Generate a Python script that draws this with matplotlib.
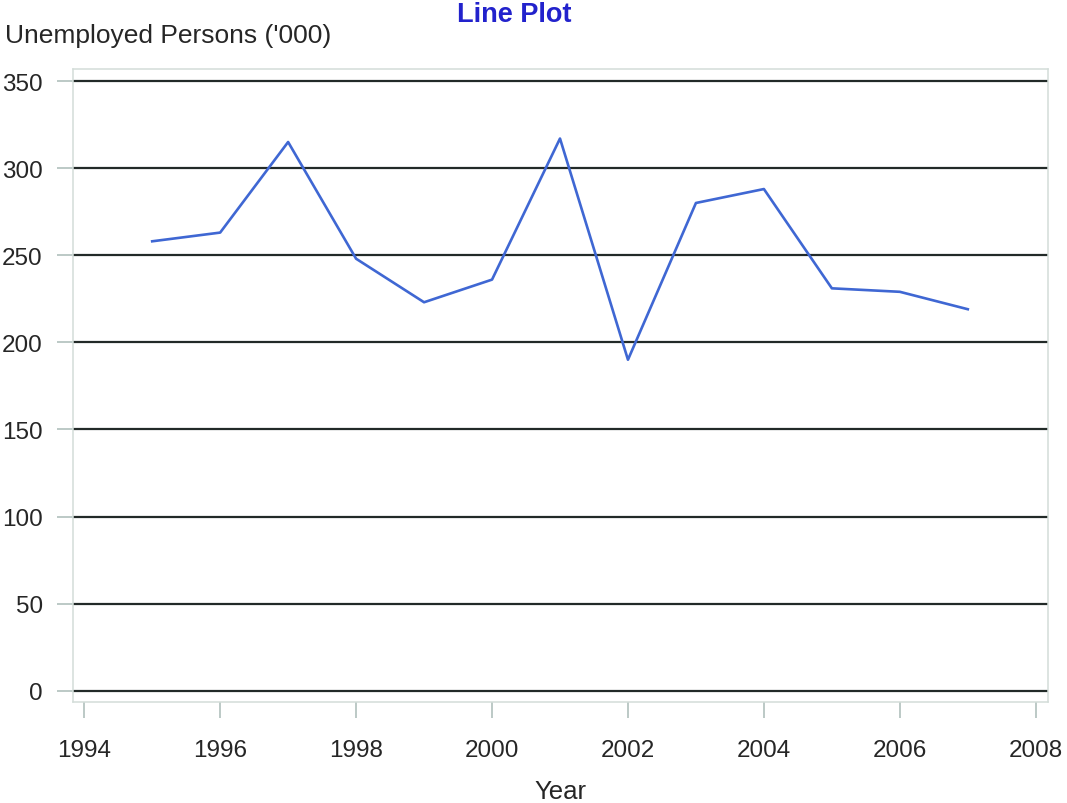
import numpy as np
import matplotlib
matplotlib.use("Agg")
import matplotlib.pyplot as plt

plt.rcParams['font.family'] = ['Liberation Sans', 'DejaVu Sans']

# data
years = [1995, 1996, 1997, 1998, 1999, 2000, 2001, 2002, 2003, 2004, 2005, 2006, 2007]
unemployed = [258, 263, 315, 248, 223, 236, 317, 190, 280, 288, 231, 229, 219]

x_ticks = [1994, 1996, 1998, 2000, 2002, 2004, 2006, 2008]
y_ticks = [0, 50, 100, 150, 200, 250, 300, 350]

text_col = '#262626'
frame_col = '#d3ddd9'
tick_col = '#a9bbb7'
grid_col = '#222a28'
line_col = '#3f67d3'

fig = plt.figure(figsize=(10.67, 8.04), dpi=100)
ax = fig.add_axes([0.0681, 0.1256, 0.9141, 0.7873])

ax.plot(years, unemployed, color=line_col, lw=1.9, zorder=3)

ax.set_xlim(1993.83, 2008.18)
ax.set_ylim(-6.5, 356.9)
ax.set_xticks(x_ticks)
ax.set_yticks(y_ticks)

ax.grid(axis='y', color=grid_col, lw=1.6)
ax.grid(axis='x', visible=False)
ax.set_axisbelow(True)

for s in ax.spines.values():
    s.set_color(frame_col)
    s.set_linewidth(1.1)

ax.tick_params(axis='both', colors=tick_col, length=11.5, width=1.1,
               labelsize=17.5, labelcolor=text_col)
ax.tick_params(axis='y', pad=10)
ax.tick_params(axis='x', pad=15)

ax.set_xlabel('Year', fontsize=18.5, color=text_col, labelpad=13)

fig.text(5 / 1067, 1 - 36 / 804, "Unemployed Persons ('000)", fontsize=19,
         color=text_col, ha='left', va='center')
fig.text(514 / 1067, 1 - 15 / 804, 'Line Plot', fontsize=19.5, fontweight='bold',
         color='#2222cc', ha='center', va='center')

fig.savefig('out.png', dpi=100)
